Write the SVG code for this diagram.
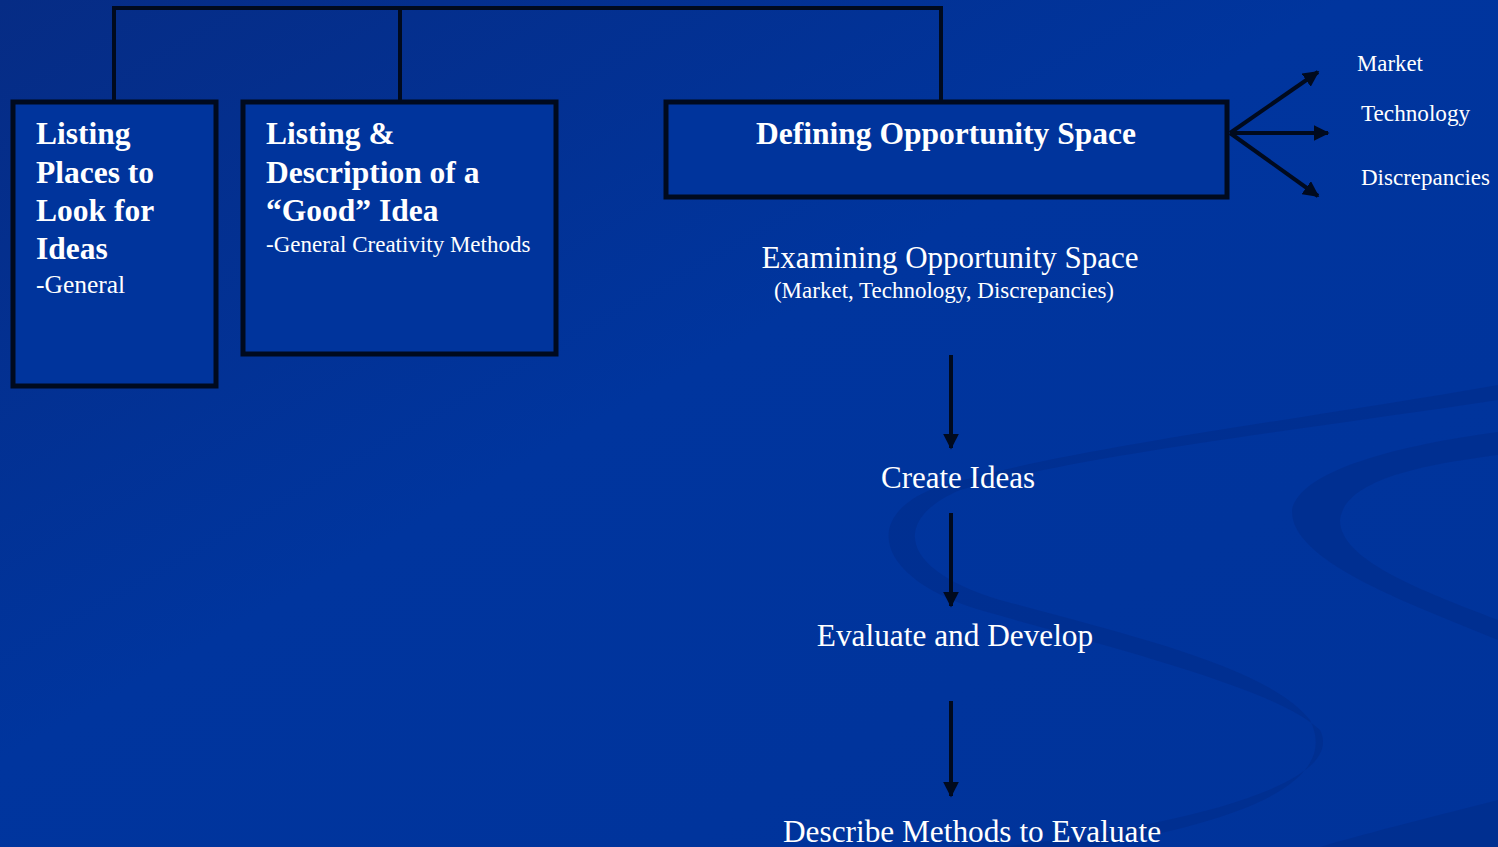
<svg xmlns="http://www.w3.org/2000/svg" width="1498" height="847" viewBox="0 0 1498 847">
<defs>
<linearGradient id="bg" x1="0" y1="0" x2="1" y2="1">
<stop offset="0" stop-color="#062c85"/>
<stop offset="0.45" stop-color="#00359e"/>
<stop offset="1" stop-color="#00339a"/>
</linearGradient>
<marker id="ah" viewBox="0 0 10 10" refX="9" refY="5" markerWidth="4" markerHeight="4" markerUnits="strokeWidth" orient="auto">
<path d="M0,0 L10,5 L0,10 z" fill="#000a1e"/>
</marker>
<style>
.box{fill:#00349c;stroke:#000a1e;stroke-width:5}
.ln{fill:none;stroke:#000a1e;stroke-width:4}
.ar{fill:none;stroke:#000a1e;stroke-width:4;marker-end:url(#ah)}
.t{font-family:"Liberation Serif","Times New Roman",serif;fill:#ffffff}
.b{font-weight:bold;font-size:31.5px}
.sw{fill:#002c88;opacity:0.55}
</style>
</defs>
<rect width="1498" height="847" fill="url(#bg)"/>
<g id="background-swooshes">
<path class="sw" d="M1498,385 C1300,420 1050,450 930,490 C860,520 880,580 980,610 C1120,650 1280,690 1320,730 C1350,790 1150,830 1000,847 L1090,847 C1250,820 1340,780 1310,720 C1270,670 1150,640 1000,600 C900,570 890,520 960,490 C1080,455 1300,430 1498,400 Z"/>
<path class="sw" d="M1498,432 C1400,445 1300,470 1292,510 C1290,560 1400,600 1498,640 L1498,620 C1420,590 1340,560 1340,520 C1345,480 1420,465 1498,455 Z"/>
<path class="sw" d="M1498,800 C1420,820 1360,835 1320,847 L1498,847 Z"/>
</g>
<g id="connectors">
<path class="ln" d="M114,101 V8 H941 V101 M400,8 V101"/>
<line class="ar" x1="1230" y1="133" x2="1318" y2="72"/>
<line class="ar" x1="1230" y1="133" x2="1328" y2="133"/>
<line class="ar" x1="1230" y1="133" x2="1318" y2="196"/>
<line class="ar" x1="951" y1="355" x2="951" y2="448"/>
<line class="ar" x1="951" y1="513" x2="951" y2="606"/>
<line class="ar" x1="951" y1="701" x2="951" y2="796"/>
</g>
<g id="node-listing-places">
<rect class="box" x="13" y="102" width="203" height="284"/>
<text class="t b" x="36" y="144">Listing</text>
<text class="t b" x="36" y="183">Places to</text>
<text class="t b" x="36" y="221">Look for</text>
<text class="t b" x="36" y="259">Ideas</text>
<text class="t" x="36" y="293" font-size="25.5">-General</text>
</g>
<g id="node-listing-description">
<rect class="box" x="243" y="102" width="313" height="252"/>
<text class="t b" x="266" y="144">Listing &amp;</text>
<text class="t b" x="266" y="183">Description of a</text>
<text class="t b" x="266" y="221">“Good” Idea</text>
<text class="t" x="266" y="252" font-size="23">-General Creativity Methods</text>
</g>
<g id="node-defining">
<rect class="box" x="666" y="102" width="561" height="95"/>
<text class="t b" x="946" y="144" text-anchor="middle">Defining Opportunity Space</text>
</g>
<g id="node-market"><text class="t" x="1357" y="71" font-size="22.8">Market</text></g>
<g id="node-technology"><text class="t" x="1361" y="121" font-size="23.2">Technology</text></g>
<g id="node-discrepancies"><text class="t" x="1361" y="185" font-size="23">Discrepancies</text></g>
<g id="node-examining">
<text class="t" x="950" y="268" font-size="31" text-anchor="middle">Examining Opportunity Space</text>
<text class="t" x="944" y="298" font-size="23" text-anchor="middle">(Market, Technology, Discrepancies)</text>
</g>
<g id="node-create"><text class="t" x="958" y="488" font-size="31" text-anchor="middle">Create Ideas</text></g>
<g id="node-evaluate"><text class="t" x="955" y="646" font-size="31.3" text-anchor="middle">Evaluate and Develop</text></g>
<g id="node-describe"><text class="t" x="972" y="842" font-size="31.3" text-anchor="middle">Describe Methods to Evaluate</text></g>
</svg>
